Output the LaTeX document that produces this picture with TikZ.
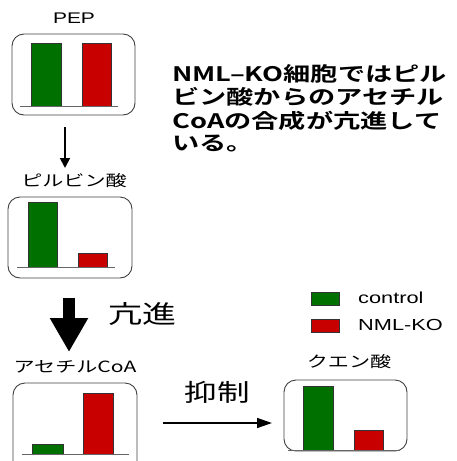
\documentclass[tikz,border=0pt]{standalone}
\usepackage{graphicx}
\usepackage{fontspec}
\setmainfont{Liberation Sans}
\newfontfamily\jp{Noto Sans CJK JP}
\newfontfamily\jpb{Noto Sans CJK JP Bold}
\usetikzlibrary{arrows.meta}
\definecolor{cgreen}{RGB}{0,112,0}
\definecolor{cred}{RGB}{200,0,0}
\newcommand{\wide}[1]{\scalebox{1.36}[1]{#1}}
\begin{document}
\begin{tikzpicture}[x=1pt,y=-1pt,
  panel/.style={draw=black!75,line width=0.9pt,rounded corners=12pt},
  gbar/.style={draw=black!80,fill=cgreen,line width=0.6pt},
  rbar/.style={draw=black!80,fill=cred,line width=0.6pt},
  axis/.style={draw=black!60,line width=1pt},
  lbl/.style={inner sep=0pt,font=\jp\fontsize{15.5}{15.5}\selectfont}]
\useasboundingbox (0,0) rectangle (457,461);
% PEP
\node[inner sep=0pt,font=\fontsize{15.4}{15.4}\selectfont] (pepl) at (74,18) {\wide{PEP}};
\draw[panel] (12,34) rectangle (135,115);
\draw[gbar] (31,43) rectangle (61,106);
\draw[rbar] (82,43) rectangle (111,106);
\draw[axis] (20,106) -- (118,106);
\coordinate (a1s) at (65,127);
\coordinate (a1e) at (65,168);
\draw[line width=1.8pt,-{Triangle[length=10pt,width=10pt]}] (a1s) -- (a1e);
% Pyruvate
\node[lbl] (pyrl) at (74,181) {\wide{ピルビン酸}};
\draw[panel] (8,197) rectangle (132,278);
\draw[gbar] (28,202) rectangle (57,267);
\draw[rbar] (78,253) rectangle (107,267);
\draw[axis] (17,267) -- (115,267);
% Big arrow
\coordinate (a2s) at (69,298);
\coordinate (a2e) at (69,352);
\draw[line width=12pt,-{Triangle[length=34pt,width=36pt]}] (a2s) -- (a2e);
\node[inner sep=0pt,font=\jp\fontsize{25}{25}\selectfont] (up) at (142,314) {\wide{亢進}};
% Acetyl-CoA
\node[lbl] (acl) at (75,367) {\wide{アセチルCoA}};
\draw[panel] (13,383) rectangle (137,475);
\draw[gbar] (32,444) rectangle (63,454);
\draw[rbar] (83,393) rectangle (113,454);
\draw[axis] (22,454) -- (129,454);
% inhibit arrow
\coordinate (a3s) at (163,423);
\coordinate (a3e) at (272,423);
\draw[line width=1.5pt,-{Triangle[length=15pt,width=10pt]}] (a3s) -- (a3e);
\node[inner sep=0pt,font=\jp\fontsize{24}{24}\selectfont] (inh) at (217,392) {\wide{抑制}};
% Citrate
\node[lbl] (cil) at (349,362) {\wide{クエン酸}};
\draw[panel] (284,380) rectangle (407,451);
\draw[gbar] (303,386) rectangle (333,450);
\draw[rbar] (354,430) rectangle (383,450);
\draw[axis] (288,450) -- (400,450);
% legend
\draw[gbar] (311,292) rectangle (339,305);
\node[anchor=west,inner sep=0pt,font=\fontsize{16}{16}\selectfont] (lc) at (358,298) {\wide{control}};
\draw[rbar] (311,319) rectangle (339,332);
\node[anchor=west,inner sep=0pt,font=\fontsize{16}{16}\selectfont] (lk) at (358,325) {\wide{NML-KO}};
% text block
\node[anchor=north west,inner sep=0pt,font=\jpb\fontsize{20}{22}\selectfont] (txt) at (172,64)
{\wide{\begin{tabular}{@{}l@{}}NML–KO細胞ではピル\\ビン酸からのアセチル\\CoAの合成が亢進して\\いる。\end{tabular}}};
\end{tikzpicture}
\end{document}
